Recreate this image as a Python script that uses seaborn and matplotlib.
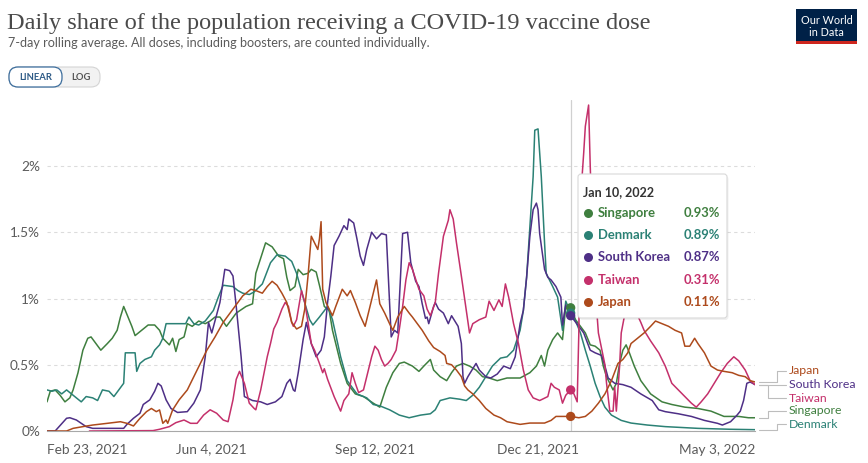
import pandas as pd
import matplotlib
matplotlib.use('Agg')
import matplotlib.pyplot as plt
import matplotlib.dates as mdates
import matplotlib.transforms as mtransforms
from matplotlib.patches import FancyBboxPatch, Rectangle
from matplotlib.lines import Line2D
from matplotlib.ticker import FuncFormatter
import seaborn as sns

# Daily share of population receiving a dose (%), 7-day avg
# x values are days since 2021-02-23
START = pd.Timestamp('2021-02-23')

sg_days = [0, 2, 5, 8, 11, 14, 16, 19, 22, 25, 27, 30, 33, 37, 40, 43, 45, 47, 49, 52,
           54, 58, 62, 66, 69, 71, 75, 77, 79, 81, 84, 86, 89, 93, 97, 100, 103, 106, 110, 116,
           122, 126, 128, 134, 138, 142, 145, 147, 149, 152, 154, 157, 160, 162, 165, 167, 170, 173, 175, 180,
           184, 189, 194, 200, 204, 208, 212, 216, 219, 224, 228, 231, 235, 237, 241, 245, 248, 251, 255, 259,
           263, 267, 271, 276, 282, 290, 296, 300, 303, 305, 307, 310, 313, 316, 318, 321, 324, 327, 330, 333,
           336, 339, 341, 343, 345, 347, 349, 351, 353, 355, 357, 360, 364, 370, 377, 383, 391, 399, 407, 415,
           424, 430, 434]
sg_vals = [0.22, 0.30, 0.31, 0.27, 0.22, 0.25, 0.31, 0.44, 0.61, 0.70, 0.71, 0.66, 0.61, 0.66, 0.70, 0.76, 0.86, 0.94, 0.88, 0.79,
           0.72, 0.76, 0.80, 0.80, 0.76, 0.70, 0.65, 0.70, 0.60, 0.69, 0.71, 0.81, 0.79, 0.83, 0.81, 0.83, 0.86, 0.86, 0.79, 0.89,
           0.94, 0.96, 1.19, 1.42, 1.39, 1.32, 1.30, 1.16, 1.06, 1.09, 1.22, 1.18, 1.19, 1.22, 1.20, 1.10, 0.94, 0.91, 0.76, 0.51,
           0.36, 0.28, 0.26, 0.21, 0.18, 0.33, 0.44, 0.51, 0.52, 0.49, 0.45, 0.49, 0.54, 0.46, 0.41, 0.38, 0.44, 0.49, 0.51, 0.49,
           0.46, 0.41, 0.40, 0.38, 0.40, 0.40, 0.44, 0.49, 0.57, 0.49, 0.61, 0.69, 0.74, 0.69, 0.94, 0.93, 0.84, 0.79, 0.74, 0.65,
           0.64, 0.61, 0.49, 0.41, 0.36, 0.31, 0.36, 0.51, 0.61, 0.65, 0.59, 0.49, 0.38, 0.28, 0.22, 0.20, 0.18, 0.17, 0.15, 0.11,
           0.11, 0.10, 0.10]

dk_days = [0, 3, 6, 9, 12, 15, 18, 21, 24, 28, 31, 34, 38, 41, 44, 47, 48, 54, 55, 57,
           60, 64, 66, 69, 71, 73, 76, 80, 85, 87, 90, 93, 97, 102, 105, 108, 114, 117, 120, 124,
           127, 132, 137, 141, 146, 150, 153, 157, 161, 163, 167, 172, 175, 180, 184, 190, 196, 200, 204, 210,
           216, 222, 229, 235, 238, 241, 247, 253, 257, 261, 265, 269, 273, 278, 282, 286, 290, 292, 294, 296,
           298, 299, 301, 303, 305, 306, 308, 310, 313, 316, 317, 318, 321, 324, 327, 330, 333, 336, 339, 342,
           346, 352, 358, 368, 379, 399, 419, 434]
dk_vals = [0.31, 0.30, 0.31, 0.28, 0.31, 0.28, 0.25, 0.22, 0.26, 0.25, 0.23, 0.31, 0.30, 0.26, 0.31, 0.36, 0.59, 0.59, 0.45, 0.51,
           0.54, 0.56, 0.61, 0.65, 0.70, 0.81, 0.81, 0.81, 0.81, 0.86, 0.81, 0.80, 0.83, 0.91, 1.01, 1.10, 1.09, 1.06, 1.04, 1.03,
           1.05, 1.11, 1.27, 1.33, 1.32, 1.28, 1.19, 1.01, 0.84, 0.80, 0.86, 0.94, 0.84, 0.56, 0.38, 0.28, 0.25, 0.20, 0.19, 0.16,
           0.12, 0.10, 0.12, 0.13, 0.16, 0.23, 0.25, 0.24, 0.23, 0.27, 0.33, 0.41, 0.49, 0.55, 0.56, 0.61, 0.76, 0.91, 1.16, 1.54,
           1.92, 2.27, 2.28, 1.92, 1.42, 1.19, 1.14, 1.09, 1.01, 0.76, 0.86, 0.98, 0.89, 0.83, 0.74, 0.61, 0.49, 0.36, 0.26, 0.18,
           0.12, 0.08, 0.06, 0.045, 0.033, 0.02, 0.013, 0.01]

kr_days = [0, 5, 12, 14, 18, 21, 24, 28, 47, 49, 53, 57, 59, 63, 66, 68, 70, 73, 76, 80,
           86, 90, 94, 97, 99, 101, 106, 109, 112, 114, 116, 119, 121, 126, 131, 135, 140, 144, 147, 149,
           151, 152, 154, 157, 159, 162, 165, 168, 170, 172, 174, 176, 179, 182, 184, 185, 188, 190, 192, 194,
           196, 199, 202, 205, 208, 211, 213, 215, 218, 221, 223, 226, 228, 230, 232, 233, 234, 237, 238, 240,
           243, 246, 248, 250, 252, 254, 255, 256, 258, 259, 263, 265, 269, 272, 276, 280, 284, 287, 290, 292,
           294, 296, 298, 300, 301, 302, 305, 307, 309, 312, 315, 316, 318, 321, 326, 329, 333, 336, 340, 342,
           344, 348, 353, 358, 364, 371, 375, 379, 387, 395, 403, 411, 414, 419, 423, 425, 427, 429, 431, 434]
kr_vals = [0, 0, 0.096, 0.10, 0.083, 0.058, 0.033, 0.02, 0.02, 0.05, 0.096, 0.134, 0.20, 0.235, 0.30, 0.36, 0.34, 0.235, 0.17, 0.14,
           0.146, 0.21, 0.31, 0.56, 0.82, 0.74, 0.97, 1.22, 1.21, 1.17, 0.94, 0.56, 0.26, 0.23, 0.22, 0.20, 0.22, 0.26, 0.36, 0.39,
           0.31, 0.30, 0.44, 0.69, 0.82, 0.66, 0.56, 0.61, 0.71, 0.97, 1.17, 1.40, 1.47, 1.55, 1.52, 1.60, 1.57, 1.45, 1.32, 1.25,
           1.37, 1.50, 1.45, 1.49, 1.48, 0.71, 0.76, 0.74, 1.49, 1.50, 1.27, 1.13, 1.09, 0.96, 0.85, 0.86, 0.81, 0.94, 0.97, 0.92,
           0.89, 0.81, 0.87, 0.83, 0.79, 0.66, 0.41, 0.36, 0.41, 0.43, 0.51, 0.46, 0.41, 0.40, 0.43, 0.49, 0.47, 0.56, 0.81, 0.91,
           1.16, 1.47, 1.67, 1.72, 1.67, 1.49, 1.22, 1.16, 1.14, 1.09, 1.01, 0.80, 0.95, 0.87, 0.79, 0.74, 0.61, 0.59, 0.57, 0.49,
           0.40, 0.36, 0.35, 0.33, 0.28, 0.23, 0.16, 0.146, 0.13, 0.11, 0.08, 0.058, 0.045, 0.07, 0.12, 0.15, 0.23, 0.36, 0.37, 0.35]

tw_days = [26, 65, 69, 75, 79, 84, 88, 92, 96, 100, 104, 108, 111, 114, 116, 118, 121, 124, 127, 128,
           131, 135, 137, 139, 141, 144, 146, 148, 150, 151, 153, 155, 156, 158, 160, 162, 164, 167, 169, 170,
           172, 176, 180, 182, 185, 187, 189, 191, 194, 196, 199, 201, 203, 205, 207, 209, 211, 214, 216, 218,
           220, 222, 224, 228, 231, 233, 235, 238, 240, 243, 246, 247, 249, 251, 254, 257, 259, 261, 265, 269,
           271, 274, 277, 279, 281, 283, 286, 289, 292, 295, 298, 302, 307, 309, 311, 314, 316, 318, 321, 323,
           325, 326, 327, 329, 330, 332, 333, 335, 338, 342, 343, 345, 347, 348, 349, 351, 352, 356, 361, 364,
           366, 370, 375, 379, 383, 387, 391, 395, 398, 401, 405, 409, 413, 417, 421, 424, 428, 431, 434]
tw_vals = [0.0, 0.003, 0.013, 0.033, 0.063, 0.083, 0.058, 0.058, 0.12, 0.16, 0.134, 0.083, 0.07, 0.235, 0.39, 0.45, 0.36, 0.21, 0.17, 0.16,
           0.31, 0.56, 0.66, 0.77, 0.82, 0.92, 0.97, 0.94, 0.82, 0.79, 0.84, 0.99, 1.06, 0.97, 0.82, 0.66, 0.61, 0.51, 0.44, 0.47,
           0.39, 0.26, 0.15, 0.23, 0.28, 0.44, 0.36, 0.29, 0.31, 0.41, 0.56, 0.64, 0.61, 0.54, 0.49, 0.51, 0.54, 0.61, 0.77, 0.94,
           1.14, 1.27, 1.22, 1.07, 1.02, 0.92, 0.87, 0.97, 1.19, 1.47, 1.59, 1.67, 1.60, 1.42, 1.17, 0.91, 0.74, 0.81, 0.84, 0.86,
           0.98, 0.91, 0.99, 0.94, 1.11, 1.01, 0.81, 0.66, 0.46, 0.31, 0.25, 0.23, 0.26, 0.36, 0.33, 0.31, 0.21, 0.27, 0.31, 0.28,
           0.22, 0.74, 1.74, 2.10, 2.30, 2.46, 2.00, 1.24, 0.74, 0.50, 0.36, 0.15, 0.15, 0.33, 0.15, 0.49, 0.74, 1.00, 0.90, 0.82,
           0.76, 0.68, 0.59, 0.49, 0.36, 0.31, 0.26, 0.21, 0.18, 0.22, 0.28, 0.36, 0.44, 0.51, 0.56, 0.53, 0.46, 0.38, 0.35]

jp_days = [0, 12, 16, 22, 28, 37, 45, 49, 53, 57, 61, 64, 67, 69, 71, 73, 74, 77, 81, 86,
           90, 94, 98, 103, 108, 114, 120, 125, 128, 132, 135, 138, 141, 144, 147, 150, 153, 156, 158, 160,
           162, 164, 166, 167, 168, 169, 171, 175, 177, 181, 184, 186, 189, 192, 195, 198, 202, 204, 207, 210,
           212, 215, 219, 222, 224, 227, 230, 234, 237, 241, 244, 245, 248, 251, 254, 256, 258, 261, 265, 269,
           274, 278, 282, 286, 290, 296, 302, 305, 309, 312, 316, 321, 326, 330, 334, 338, 342, 346, 350, 353,
           356, 358, 360, 362, 366, 370, 373, 377, 381, 385, 389, 391, 394, 397, 399, 403, 407, 411, 415, 420,
           424, 428, 431, 434]
jp_vals = [0, 0, 0.02, 0.033, 0.045, 0.058, 0.07, 0.058, 0.038, 0.096, 0.146, 0.17, 0.146, 0.159, 0.058, 0.083, 0.058, 0.159, 0.235, 0.31,
           0.41, 0.51, 0.61, 0.71, 0.82, 0.92, 1.02, 1.07, 1.06, 1.04, 1.09, 1.13, 1.10, 1.04, 0.97, 0.82, 0.77, 0.79, 0.92, 1.17,
           1.47, 1.42, 1.37, 1.45, 1.58, 1.07, 0.97, 0.87, 0.94, 1.07, 1.02, 1.06, 0.97, 0.87, 0.79, 0.94, 1.14, 0.96, 0.89, 0.81,
           0.76, 0.86, 0.94, 0.89, 0.86, 0.81, 0.76, 0.68, 0.63, 0.60, 0.57, 0.51, 0.50, 0.46, 0.41, 0.34, 0.31, 0.28, 0.23, 0.17,
           0.12, 0.10, 0.07, 0.06, 0.05, 0.06, 0.06, 0.06, 0.08, 0.11, 0.11, 0.11, 0.10, 0.11, 0.15, 0.21, 0.28, 0.38, 0.51, 0.54,
           0.59, 0.66, 0.68, 0.70, 0.74, 0.79, 0.83, 0.81, 0.79, 0.76, 0.74, 0.64, 0.64, 0.70, 0.66, 0.59, 0.49, 0.46, 0.45, 0.44,
           0.42, 0.41, 0.38, 0.37]

countries = ['Singapore', 'Denmark', 'South Korea', 'Taiwan', 'Japan']
colors = {'Singapore': '#3f7f3f', 'Denmark': '#2b8175', 'South Korea': '#4e2f86',
          'Taiwan': '#c4306b', 'Japan': '#ad4a1c'}
series = {'Singapore': (sg_days, sg_vals), 'Denmark': (dk_days, dk_vals),
          'South Korea': (kr_days, kr_vals), 'Taiwan': (tw_days, tw_vals), 'Japan': (jp_days, jp_vals)}

# hover tooltip values
hover_date = pd.Timestamp('2022-01-10')
hover_vals = [0.93, 0.89, 0.87, 0.31, 0.11]

tick_dates = ['2021-02-23', '2021-06-04', '2021-09-12', '2021-12-21', '2022-05-03']
tick_labels = ['Feb 23, 2021', 'Jun 4, 2021', 'Sep 12, 2021', 'Dec 21, 2021', 'May 3, 2022']

frames = []
for name in countries:
    d, v = series[name]
    frames.append(pd.DataFrame({'date': START + pd.to_timedelta(d, unit='D'), 'share': v, 'country': name}))
df = pd.concat(frames, ignore_index=True)

W, H = 868, 463
sns.set_style('white')
plt.rcParams['font.family'] = ['Lato', 'DejaVu Sans']

fig = plt.figure(figsize=(W / 100, H / 100), dpi=100)
ax = fig.add_axes([47 / W, 1 - 431 / H, (755 - 47) / W, 331.25 / H])
# pixel coords of the 868x463 canvas, origin top-left
px = mtransforms.Affine2D().scale(1 / W, -1 / H).translate(0, 1) + fig.transFigure

ax.axvline(hover_date, color='#d0d0d0', lw=0.9, zorder=1)
sns.lineplot(data=df, x='date', y='share', hue='country', hue_order=countries, palette=colors,
             estimator=None, linewidth=1.1, legend=False, ax=ax)

hv = pd.DataFrame({'date': [hover_date] * 5, 'share': hover_vals, 'country': countries})
sns.scatterplot(data=hv, x='date', y='share', hue='country', palette=colors, s=45,
                edgecolor='none', legend=False, ax=ax, zorder=5)

ax.set_xlim(START, START + pd.Timedelta(days=434))
ax.set_ylim(0, 2.5)
ax.set_yticks([0, 0.5, 1, 1.5, 2])
ax.yaxis.set_major_formatter(FuncFormatter(lambda v, _: f'{v:g}%'))
ax.grid(axis='y', color='#dcdcdc', linestyle=(0, (3, 3)), lw=0.8)
ax.set_axisbelow(True)
for s in ['top', 'right', 'left']:
    ax.spines[s].set_visible(False)
ax.spines['bottom'].set_color('#a8a8a8')
ax.tick_params(axis='y', length=0, pad=5, labelsize=9.8, labelcolor='#5b5b5b')
ax.tick_params(axis='x', length=4, color='#a8a8a8', pad=5, labelsize=9.8, labelcolor='#5b5b5b')
ax.set_xticks(pd.to_datetime(tick_dates))
ax.set_xticklabels(tick_labels)
xl = ax.get_xticklabels()
xl[0].set_ha('left')
xl[-1].set_ha('right')
ax.set_xlabel('')
ax.set_ylabel('')

# title block
fig.text(7, 29, 'Daily share of the population receiving a COVID-19 vaccine dose', transform=px,
         family='Liberation Serif', fontsize=17.5, color='#4a4a4a', va='baseline')
fig.text(8, 47, '7-day rolling average. All doses, including boosters, are counted individually.',
         transform=px, fontsize=9.1, color='#5b5b5b', va='baseline')

# logo
fig.add_artist(Rectangle((796, 9), 61, 35, transform=px, fc='#002147', ec='none'))
fig.add_artist(Rectangle((796, 41), 61, 3, transform=px, fc='#ce261e', ec='none'))
fig.text(826.5, 20, 'Our World', transform=px, color='white', fontsize=7.8, ha='center', va='center')
fig.text(826.5, 32, 'in Data', transform=px, color='white', fontsize=7.8, ha='center', va='center')

# linear / log toggle
fig.add_artist(FancyBboxPatch((9, 67), 91, 20, boxstyle='round,pad=0,rounding_size=9', transform=px,
                              fc='#f2f2f2', ec='#d4d4d4', lw=0.8))
fig.add_artist(FancyBboxPatch((9, 67), 53, 20, boxstyle='round,pad=0,rounding_size=9', transform=px,
                              fc='white', ec='#3c6d9c', lw=0.9))
fig.text(35.5, 77.5, 'LINEAR', transform=px, color='#2d5a86', fontsize=6.8, fontweight='bold', ha='center', va='center')
fig.text(81, 77.5, 'LOG', transform=px, color='#555555', fontsize=6.8, fontweight='bold', ha='center', va='center')

# tooltip
fig.add_artist(FancyBboxPatch((579.5, 176), 149, 144, boxstyle='round,pad=0,rounding_size=3', transform=px,
                              fc='black', alpha=0.06, ec='none', zorder=10))
fig.add_artist(FancyBboxPatch((578, 174), 149, 144, boxstyle='round,pad=0,rounding_size=3', transform=px,
                              fc='white', ec='#d9d9d9', lw=0.8, zorder=11))
fig.text(583, 192, 'Jan 10, 2022', transform=px, fontsize=9, fontweight='bold', color='#333333',
         va='center', zorder=12)
for i, (name, val) in enumerate(zip(countries, hover_vals)):
    y = 213 + i * 22.2
    c = colors[name]
    fig.add_artist(Line2D([588], [y], marker='o', ms=6.5, color=c, mec='none', transform=px, zorder=12))
    fig.text(598, y, name, transform=px, fontsize=9.4, fontweight='bold', color=c, va='center', zorder=12)
    fig.text(720, y, f'{val:.2f}%', transform=px, fontsize=9.4, fontweight='bold', color=c,
             ha='right', va='center', zorder=12)

# end labels with connectors
lab_y = {'Japan': 371, 'South Korea': 385, 'Taiwan': 398, 'Singapore': 411, 'Denmark': 424}
elbow_x = {'Japan': 777, 'South Korea': 777, 'Taiwan': 768, 'Singapore': 768, 'Denmark': 777}
inv = px.inverted()
for name in countries:
    d, v = series[name]
    end = ax.transData.transform((mdates.date2num(START + pd.Timedelta(days=d[-1])), v[-1]))
    ex, ey = inv.transform(end)
    ly = lab_y[name]
    fig.add_artist(Line2D([ex + 4, elbow_x[name], elbow_x[name], 786], [ey, ey, ly, ly],
                          color='#bdbdbd', lw=0.8, transform=px))
    fig.text(789, ly, name, transform=px, fontsize=8.8, color=colors[name], va='center')

fig.savefig('out.png', dpi=100)
